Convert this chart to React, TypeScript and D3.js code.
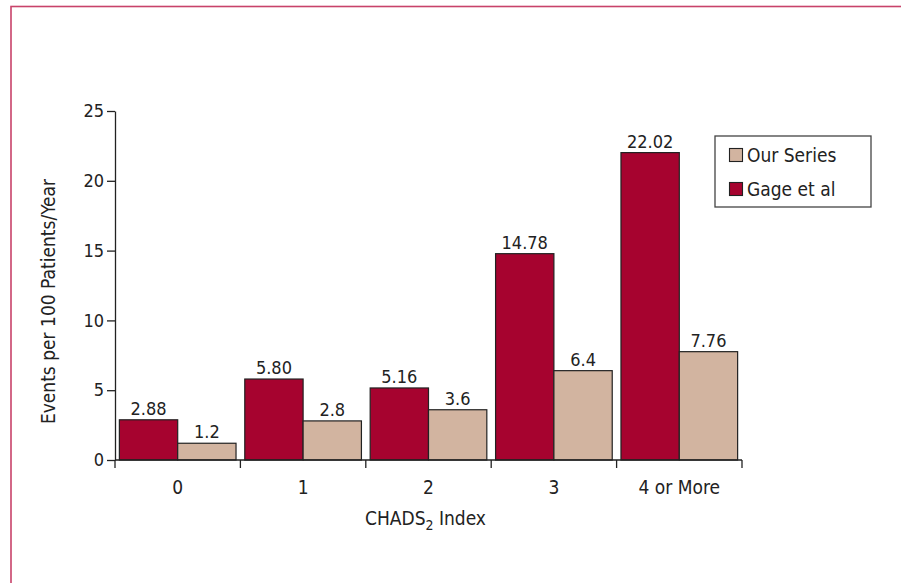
import React, { useRef, useEffect } from "react";
import { select, scaleBand, scaleLinear, axisLeft, axisBottom } from "d3";

const categories = ["0", "1", "2", "3", "4 or More"];
const gageValues = [2.88, 5.8, 5.16, 14.78, 22.02];
const gageLabels = ["2.88", "5.80", "5.16", "14.78", "22.02"];
const ourValues = [1.2, 2.8, 3.6, 6.4, 7.76];
const ourLabels = ["1.2", "2.8", "3.6", "6.4", "7.76"];
const yTicks = [0, 5, 10, 15, 20, 25];

const FONT = "'Liberation Sans Narrow', 'DejaVu Sans Condensed', 'Arial Narrow', sans-serif";
const RED = "#a6032f";
const TAN = "#d2b4a0";
const INK = "#222";

const App = () => {
  const svgRef = useRef<SVGSVGElement>(null);

  useEffect(() => {
    const svg = select(svgRef.current);
    svg.selectAll("*").remove();

    const width = 901;
    const height = 583;
    const margin = { top: 111, left: 115, right: 159, bottom: 123 };
    const plotW = width - margin.left - margin.right;
    const plotH = height - margin.top - margin.bottom;

    svg.append("rect").attr("width", width).attr("height", height).attr("fill", "#fff");

    // pink frame
    svg
      .append("rect")
      .attr("x", 11)
      .attr("y", 6.5)
      .attr("width", 1000)
      .attr("height", 1000)
      .attr("fill", "none")
      .attr("stroke", "#c8436a")
      .attr("stroke-width", 1.6);

    const g = svg.append("g").attr("transform", `translate(${margin.left},${margin.top})`);

    const x = scaleBand().domain(categories).range([0, plotW]).paddingInner(0).paddingOuter(0);
    const inner = scaleBand()
      .domain(["gage", "our"])
      .range([0, x.bandwidth()])
      .paddingInner(0)
      .paddingOuter(0.075);
    const y = scaleLinear().domain([0, 25]).range([plotH, 0]);

    const groups = g
      .selectAll(".grp")
      .data(categories)
      .enter()
      .append("g")
      .attr("transform", (d) => `translate(${x(d)},0)`);

    const series = [
      { key: "gage", values: gageValues, labels: gageLabels, color: RED },
      { key: "our", values: ourValues, labels: ourLabels, color: TAN },
    ];

    series.forEach((s) => {
      groups
        .append("rect")
        .attr("x", inner(s.key)!)
        .attr("width", inner.bandwidth())
        .attr("y", (_, i) => y(s.values[i]))
        .attr("height", (_, i) => plotH - y(s.values[i]))
        .attr("fill", s.color)
        .attr("stroke", INK)
        .attr("stroke-width", 1.2);

      groups
        .append("text")
        .attr("x", inner(s.key)! + inner.bandwidth() / 2)
        .attr("y", (_, i) => y(s.values[i]) - 5)
        .attr("text-anchor", "middle")
        .attr("font-family", FONT)
        .attr("font-size", 18)
        .attr("fill", INK)
        .text((_, i) => s.labels[i]);
    });

    // Y axis
    const yAxis = g
      .append("g")
      .call(axisLeft(y).tickValues(yTicks).tickSize(8).tickPadding(3).tickSizeOuter(0));
    yAxis.select(".domain").attr("stroke", INK).attr("stroke-width", 1.3);
    yAxis.selectAll(".tick line").attr("stroke", INK).attr("stroke-width", 1.3);
    yAxis
      .selectAll(".tick text")
      .attr("font-family", FONT)
      .attr("font-size", 18)
      .attr("fill", INK);

    // X axis with boundary ticks
    const xAxis = g.append("g").attr("transform", `translate(0,${plotH})`);
    xAxis
      .append("line")
      .attr("x1", 0)
      .attr("x2", plotW)
      .attr("stroke", INK)
      .attr("stroke-width", 1.3);
    const bounds = categories.map((c) => x(c)!).concat([plotW]);
    xAxis
      .selectAll(".bt")
      .data(bounds)
      .enter()
      .append("line")
      .attr("x1", (d) => d)
      .attr("x2", (d) => d)
      .attr("y1", 0)
      .attr("y2", 8)
      .attr("stroke", INK)
      .attr("stroke-width", 1.3);
    const xa = g
      .append("g")
      .attr("transform", `translate(0,${plotH})`)
      .call(axisBottom(x).tickSize(0).tickPadding(21));
    xa.select(".domain").remove();
    xa.selectAll(".tick text")
      .attr("font-family", FONT)
      .attr("font-size", 19)
      .attr("fill", INK);

    // X axis title
    const xt = svg
      .append("text")
      .attr("x", margin.left + plotW / 2 - 3)
      .attr("y", 525)
      .attr("text-anchor", "middle")
      .attr("font-family", FONT)
      .attr("font-size", 19)
      .attr("fill", INK);
    xt.append("tspan").text("CHADS");
    xt.append("tspan").attr("font-size", 14).attr("dy", 5).text("2");
    xt.append("tspan").attr("dy", -5).text(" Index");

    // Y axis title
    svg
      .append("text")
      .attr("transform", `translate(55,${margin.top + plotH / 2 + 16}) rotate(-90)`)
      .attr("text-anchor", "middle")
      .attr("font-family", FONT)
      .attr("font-size", 19)
      .attr("fill", INK)
      .text("Events per 100 Patients/Year");

    // Legend
    const lg = svg.append("g").attr("transform", "translate(715,136)");
    lg.append("rect")
      .attr("width", 156)
      .attr("height", 71)
      .attr("fill", "#fff")
      .attr("stroke", "#444")
      .attr("stroke-width", 1.3);
    const legendItems = [
      { label: "Our Series", color: TAN },
      { label: "Gage et al", color: RED },
    ];
    legendItems.forEach((d, i) => {
      lg.append("rect")
        .attr("x", 14.5)
        .attr("y", 12.5 + i * 34)
        .attr("width", 13)
        .attr("height", 13)
        .attr("fill", d.color)
        .attr("stroke", INK)
        .attr("stroke-width", 1.1);
      lg.append("text")
        .attr("x", 32)
        .attr("y", 26 + i * 34)
        .attr("font-family", FONT)
        .attr("font-size", 19)
        .attr("fill", INK)
        .text(d.label);
    });
  }, []);

  return (
    <div style={{ position: "fixed", left: 0, top: 0 }}>
      <svg ref={svgRef} width={901} height={583} style={{ display: "block" }} />
    </div>
  );
};

export default App;
